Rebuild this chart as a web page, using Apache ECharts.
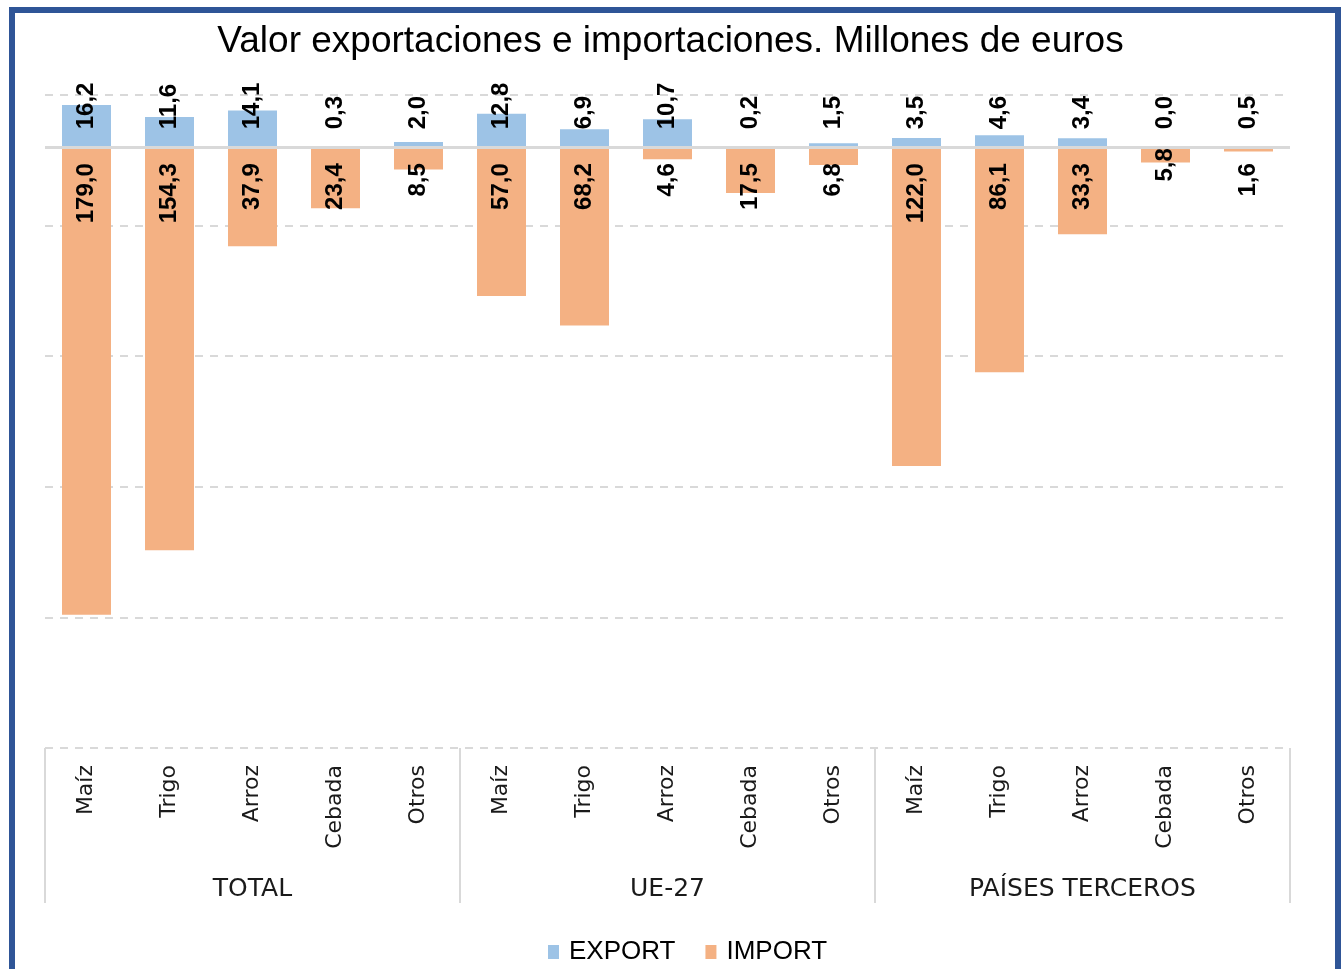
<!DOCTYPE html>
<html>
<head>
<meta charset="utf-8">
<script src="https://cdn.jsdelivr.net/npm/echarts@6/dist/echarts.min.js"></script>
<style>
    html, body { margin: 0; padding: 0; background: #fff; }
    #chart { position: absolute; left: 0; top: 0; width: 1341px; height: 969px; }
    #frame {
        position: absolute; left: 9px; top: 7px; width: 1320px; height: 1000px;
        border: 6px solid #2f5597; border-bottom: none; pointer-events: none;
    }
</style>
</head>
<body>
<div id="chart"></div>
<div id="frame"></div>
<script>
const categories = ['Maíz', 'Trigo', 'Arroz', 'Cebada', 'Otros',
    'Maíz', 'Trigo', 'Arroz', 'Cebada', 'Otros',
    'Maíz', 'Trigo', 'Arroz', 'Cebada', 'Otros'];
const groups = ['TOTAL', 'UE-27', 'PAÍSES TERCEROS'];
const exportValues = [16.2, 11.6, 14.1, 0.3, 2.0, 12.8, 6.9, 10.7, 0.2, 1.5, 3.5, 4.6, 3.4, 0.0, 0.5];
const importValues = [179.0, 154.3, 37.9, 23.4, 8.5, 57.0, 68.2, 4.6, 17.5, 6.8, 122.0, 86.1, 33.3, 5.8, 1.6];

const fmt = (p) => Math.abs(p.value).toFixed(1).replace('.', ',');
const labelFont = { fontFamily: 'Liberation Sans', fontSize: 24, fontWeight: 'bold', color: '#000' };

// imports go below zero; the small "5,8" label sits closer to the axis in the original
const importData = importValues.map((v, i) => {
    if (i === 13) return { value: -v, label: { distance: 1 } };
    return -v;
});

const chart = echarts.init(document.getElementById('chart'));
chart.setOption({
    animation: false,
    title: {
        text: 'Valor exportaciones e importaciones. Millones de euros',
        left: 'center',
        top: 18,
        textStyle: { fontFamily: 'Liberation Sans', fontSize: 37, fontWeight: 'normal', color: '#000' }
    },
    legend: {
        top: 934,
        left: 543,
        icon: 'rect',
        itemWidth: 11,
        itemHeight: 14,
        itemGap: 30,
        textStyle: { fontFamily: 'Liberation Sans', fontSize: 26, color: '#000', padding: [0, 0, 0, 5] }
    },
    grid: { left: 45, right: 51, top: 95, bottom: 221, containLabel: false },
    xAxis: [
        {
            type: 'category',
            data: categories,
            position: 'bottom',
            axisLine: { show: false },
            axisTick: { show: false },
            axisLabel: {
                interval: 0, rotate: 90, margin: 17,
                fontFamily: 'DejaVu Sans', fontSize: 22, color: '#1a1a1a'
            }
        },
        {
            type: 'category',
            data: groups,
            position: 'bottom',
            axisLine: { show: false },
            axisTick: { show: true, interval: 0, length: 155, lineStyle: { color: '#d9d9d9', width: 2 } },
            axisLabel: {
                interval: 0, margin: 129,
                fontFamily: 'DejaVu Sans', fontSize: 25, color: '#1a1a1a'
            }
        }
    ],
    yAxis: {
        type: 'value',
        min: -230,
        max: 20,
        interval: 50,
        axisLabel: { show: false },
        axisLine: { show: false },
        axisTick: { show: false },
        splitLine: { lineStyle: { color: '#d9d9d9', width: 2, type: [8, 7] } }
    },
    series: [
        {
            name: 'EXPORT',
            type: 'bar',
            stack: 'total',
            barWidth: 49,
            itemStyle: { color: '#9dc3e6' },
            data: exportValues,
            label: {
                show: true, position: 'insideBottom', distance: 18, rotate: 90,
                align: 'left', verticalAlign: 'middle', formatter: fmt, ...labelFont
            },
            markLine: {
                silent: true,
                symbol: 'none',
                label: { show: false },
                lineStyle: { color: '#d9d9d9', type: 'solid', width: 3 },
                data: [{ yAxis: 0 }]
            }
        },
        {
            name: 'IMPORT',
            type: 'bar',
            stack: 'total',
            barWidth: 49,
            itemStyle: { color: '#f4b183' },
            data: importData,
            label: {
                show: true, position: 'insideTop', distance: 16, rotate: 90,
                align: 'right', verticalAlign: 'middle', formatter: fmt, ...labelFont
            }
        }
    ]
});
</script>
</body>
</html>
